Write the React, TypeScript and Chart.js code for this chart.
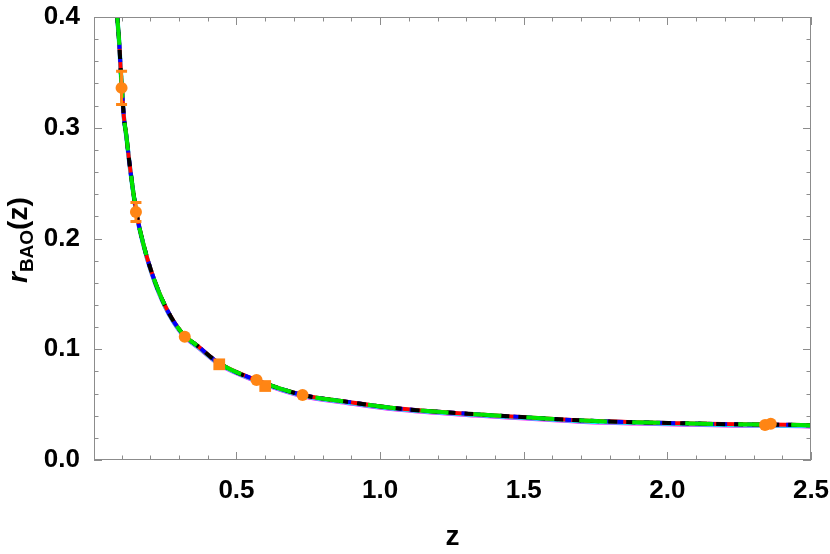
import React, { useEffect, useRef } from "react";
import { Chart, registerables } from "chart.js";

Chart.register(...registerables);

// Model curve r_BAO(z)
const Z_CURVE = [0.085, 0.092, 0.097, 0.101, 0.108, 0.117, 0.128, 0.152, 0.175, 0.204, 0.25, 0.308, 0.372, 0.44, 0.569, 0.731, 0.882, 1.056, 1.333, 1.507, 1.692, 1.889, 2.063, 2.247, 2.467, 2.5];
const R_CURVE = [0.4, 0.376, 0.352, 0.336, 0.31, 0.292, 0.267, 0.223, 0.196, 0.17, 0.14, 0.1155, 0.1015, 0.0873, 0.0722, 0.0587, 0.0527, 0.0467, 0.0413, 0.0386, 0.0358, 0.0341, 0.0331, 0.0322, 0.0316, 0.0313];

// Observational points (circles and squares)
const CIRCLE_Z = [0.1, 0.15, 0.32, 0.57, 0.73, 2.34, 2.36];
const CIRCLE_R = [0.336, 0.224, 0.1113, 0.0722, 0.0587, 0.0316, 0.0328];
const CIRCLE_ERR = [0.015, 0.0086, 0, 0, 0, 0, 0];
const SQUARE_Z = [0.44, 0.6];
const SQUARE_R = [0.0864, 0.0668];
const SQUARE_ERR = [0, 0];

// Axes
const X_MIN = 0.004;
const X_MAX = 2.5;
const Y_MIN = 0;
const Y_MAX = 0.4;
const X_MAJOR = [0.5, 1.0, 1.5, 2.0, 2.5];
const Y_MAJOR = [0.0, 0.1, 0.2, 0.3, 0.4];
const X_MINOR_STEP = 0.1;
const Y_MINOR_STEP = 0.02;

const FONT = '"Liberation Sans", Arial, sans-serif';
const ORANGE = "rgb(255,133,20)";
const FRAME = "#8c8c8c";

const curve = Z_CURVE.map((z, i) => ({ x: z, y: R_CURVE[i] }));

const minorTicks = (min: number, max: number, step: number, majors: number[]) => {
  const out: number[] = [];
  for (let k = Math.ceil(min / step - 1e-9); k * step <= max + 1e-9; k++) {
    const v = +(k * step).toFixed(6);
    if (!majors.some((m) => Math.abs(m - v) < 1e-9)) out.push(v);
  }
  return out;
};

const decoPlugin = {
  id: "deco",
  beforeDatasetDraw(chart: any, args: any) {
    const ds = chart.data.datasets[args.index];
    if (ds.shiftDown) {
      chart.ctx.save();
      chart.ctx.translate(0, ds.shiftDown);
    }
  },
  afterDatasetDraw(chart: any, args: any) {
    const ds = chart.data.datasets[args.index];
    if (ds.shiftDown) chart.ctx.restore();
  },
  afterDatasetsDraw(chart: any) {
    const ctx = chart.ctx;
    const xs = chart.scales.x;
    const ys = chart.scales.y;
    ctx.save();
    ctx.strokeStyle = ORANGE;
    ctx.lineWidth = 3;
    const bars = (zs: number[], rs: number[], es: number[]) => {
      zs.forEach((z, i) => {
        if (!es[i]) return;
        const px = xs.getPixelForValue(z);
        const y1 = ys.getPixelForValue(rs[i] - es[i]);
        const y2 = ys.getPixelForValue(rs[i] + es[i]);
        ctx.beginPath();
        ctx.moveTo(px, y1);
        ctx.lineTo(px, y2);
        ctx.moveTo(px - 5.5, y1);
        ctx.lineTo(px + 5.5, y1);
        ctx.moveTo(px - 5.5, y2);
        ctx.lineTo(px + 5.5, y2);
        ctx.stroke();
      });
    };
    bars(CIRCLE_Z, CIRCLE_R, CIRCLE_ERR);
    bars(SQUARE_Z, SQUARE_R, SQUARE_ERR);
    ctx.restore();
  },
  afterDraw(chart: any) {
    const ctx = chart.ctx;
    const { left, right, top, bottom } = chart.chartArea;
    const xs = chart.scales.x;
    const ys = chart.scales.y;
    ctx.save();
    ctx.strokeStyle = FRAME;
    ctx.lineWidth = 1;
    ctx.strokeRect(left + 0.5, top + 0.5, right - left - 1, bottom - top - 1);
    ctx.beginPath();
    const xt = (v: number, len: number) => {
      const px = Math.round(xs.getPixelForValue(v)) + 0.5;
      ctx.moveTo(px, bottom);
      ctx.lineTo(px, bottom - len);
      ctx.moveTo(px, top);
      ctx.lineTo(px, top + len);
    };
    const yt = (v: number, len: number) => {
      const py = Math.round(ys.getPixelForValue(v)) + 0.5;
      ctx.moveTo(left, py);
      ctx.lineTo(left + len, py);
      ctx.moveTo(right, py);
      ctx.lineTo(right - len, py);
    };
    X_MAJOR.forEach((v) => xt(v, 8));
    minorTicks(X_MIN, X_MAX, X_MINOR_STEP, X_MAJOR).forEach((v) => xt(v, 4.5));
    Y_MAJOR.forEach((v) => yt(v, 8));
    minorTicks(Y_MIN, Y_MAX, Y_MINOR_STEP, Y_MAJOR).forEach((v) => yt(v, 4.5));
    ctx.stroke();

    // axis titles
    ctx.fillStyle = "#000";
    ctx.textBaseline = "alphabetic";
    ctx.textAlign = "center";
    ctx.font = `bold 28px ${FONT}`;
    ctx.fillText("z", (left + right) / 2, 545);

    ctx.translate(27, 283);
    ctx.rotate(-Math.PI / 2);
    ctx.textAlign = "left";
    ctx.font = `italic bold 28px ${FONT}`;
    ctx.fillText("r", 0, 0);
    let w = ctx.measureText("r").width;
    ctx.font = `bold 19px ${FONT}`;
    ctx.fillText("BAO", w, 6);
    w += ctx.measureText("BAO").width;
    ctx.font = `bold 28px ${FONT}`;
    ctx.fillText("(z)", w, 0);
    ctx.restore();
  },
};

export default function App() {
  const ref = useRef<HTMLCanvasElement | null>(null);

  useEffect(() => {
    if (!ref.current) return;
    const line = (color: string, width: number, dash: number[], order: number, extra: any = {}) => ({
      type: "line",
      data: curve,
      borderColor: color,
      borderWidth: width,
      borderDash: dash,
      pointRadius: 0,
      fill: false,
      cubicInterpolationMode: "monotone",
      borderCapStyle: "butt",
      clip: 0,
      order,
      ...extra,
    });
    const chart = new Chart(ref.current, {
      type: "line",
      data: {
        datasets: [
          {
            type: "scatter",
            data: CIRCLE_Z.map((z, i) => ({ x: z, y: CIRCLE_R[i] })),
            backgroundColor: ORANGE,
            borderWidth: 0,
            pointRadius: 6,
            pointStyle: "circle",
            order: 0,
          } as any,
          {
            type: "scatter",
            data: SQUARE_Z.map((z, i) => ({ x: z, y: SQUARE_R[i] })),
            backgroundColor: ORANGE,
            borderWidth: 0,
            pointRadius: 8.3,
            pointStyle: "rect",
            order: 0,
          } as any,
          line("rgb(0,230,0)", 4, [28, 25], 1),
          line("#000000", 4, [9, 9], 2, { borderDashOffset: 3 }),
          line("rgb(0,0,255)", 4, [6, 7], 3),
          line("rgb(255,0,0)", 4, [], 4),
          line("rgb(0,255,255)", 4.5, [], 5, { shiftDown: 0.6 }),
          line("rgb(255,0,255)", 4, [], 6, { shiftDown: 1.3 }),
        ] as any,
      },
      options: {
        responsive: false,
        animation: false,
        devicePixelRatio: 1,
        layout: { padding: { top: 17, right: 19, left: 0, bottom: 0 } },
        plugins: { legend: { display: false }, tooltip: { enabled: false } },
        scales: {
          x: {
            type: "linear",
            min: X_MIN,
            max: X_MAX,
            grid: { display: false },
            border: { display: false },
            afterBuildTicks: (s: any) => {
              s.ticks = X_MAJOR.map((v) => ({ value: v }));
            },
            afterFit: (s: any) => {
              s.height = 94;
              s.paddingLeft = 0;
              s.paddingRight = 0;
            },
            ticks: {
              autoSkip: false,
              maxRotation: 0,
              padding: 7,
              color: "#000",
              font: { family: FONT, size: 26, weight: "bold" },
              callback: (v: any) => Number(v).toFixed(1),
            },
          },
          y: {
            type: "linear",
            min: Y_MIN,
            max: Y_MAX,
            grid: { display: false },
            border: { display: false },
            afterBuildTicks: (s: any) => {
              s.ticks = Y_MAJOR.map((v) => ({ value: v }));
            },
            afterFit: (s: any) => {
              s.width = 94;
              s.paddingTop = 0;
              s.paddingBottom = 0;
            },
            ticks: {
              padding: 6,
              color: "#000",
              font: { family: FONT, size: 26, weight: "bold" },
              callback: (v: any) => Number(v).toFixed(1),
            },
          },
        },
      } as any,
      plugins: [decoPlugin as any],
    });
    return () => chart.destroy();
  }, []);

  return (
    <div style={{ position: "fixed", left: 0, top: 0, width: 830, height: 554, background: "#fff" }}>
      <canvas ref={ref} width={830} height={554} style={{ width: 830, height: 554, display: "block" }} />
    </div>
  );
}
